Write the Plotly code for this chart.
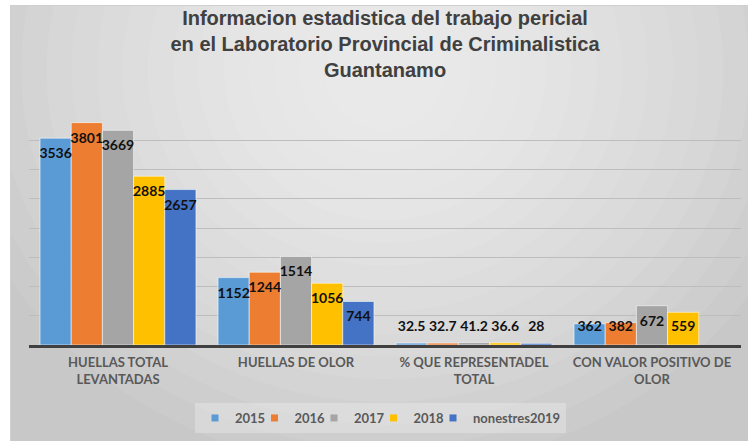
import plotly.graph_objects as go

categories = ["HUELLAS TOTAL<br>LEVANTADAS", "HUELLAS DE OLOR",
              "% QUE REPRESENTADEL<br>TOTAL", "CON VALOR POSITIVO DE<br>OLOR"]
series_names = ["2015", "2016", "2017", "2018", "nonestres2019"]
v2015 = [3536, 1152, 32.5, 362]
v2016 = [3801, 1244, 32.7, 382]
v2017 = [3669, 1514, 41.2, 672]
v2018 = [2885, 1056, 36.6, 559]
v2019 = [2657, 744, 28, None]
series_values = [v2015, v2016, v2017, v2018, v2019]
colors = ["#5B9BD5", "#ED7D31", "#A5A5A5", "#FFC000", "#4472C4"]

W, H = 748, 441
ML, MR, MT, MB = 29, 7, 111, 96
PW = W - ML - MR
PH = H - MT - MB
YMAX = 4000
K = YMAX / PH  # data units per pixel


def px(x):
    return (x - ML) / PW


def py(y):
    return (H - MB - y) / PH


lab_font = dict(family="Lato", size=14, color="#111111", weight="bold")

fig = go.Figure()
for i, (name, vals, col) in enumerate(zip(series_names, series_values, colors)):
    fig.add_trace(go.Bar(
        name=name, x=categories, y=vals, showlegend=False, offsetgroup=f"s{i}",
        marker=dict(color=col, line=dict(color="rgba(255,255,255,0.55)", width=1)),
        hoverinfo="x+y+name",
    ))

# data labels placed "inside end" like the original chart
for i, (name, vals) in enumerate(zip(series_names, series_values)):
    ys = [None if v is None else max(v - 16.5 * K, 18 * K) for v in vals]
    texts = ["" if v is None else f"{v:g}" for v in vals]
    fig.add_trace(go.Scatter(
        x=categories, y=ys, mode="text", text=texts, textposition="middle center",
        textfont=lab_font, offsetgroup=f"s{i}", showlegend=False,
        hoverinfo="skip", cliponaxis=False,
    ))

# legend entries (small square keys like the original)
for i, (name, col) in enumerate(zip(series_names, colors)):
    fig.add_trace(go.Scatter(
        name=name, x=[categories[0]], y=[None], mode="markers",
        marker=dict(symbol="square", size=7, color=col), offsetgroup=f"s{i}",
        showlegend=True, hoverinfo="skip",
        legendwidth=(14.5 if i < len(series_names) - 1 else None),
    ))

shapes = []
shapes.append(dict(type="rect", xref="paper", yref="paper", layer="below",
                   x0=px(10), x1=px(760), y0=py(460), y1=py(5),
                   fillcolor="#c8c8c8", line=dict(width=0)))
n = 16
for i in range(n):
    t = i / (n - 1)
    rx = 440 - t * 380
    ry = 400 - t * 340
    cx, cy = 385, 70
    shapes.append(dict(type="circle", xref="paper", yref="paper", layer="below",
                       x0=px(cx - rx), x1=px(cx + rx), y0=py(cy + ry), y1=py(cy - ry),
                       fillcolor="rgba(255,255,255,0.07)", line=dict(width=0)))
shapes.append(dict(type="rect", xref="paper", yref="paper", layer="below",
                   x0=px(-50), x1=px(10), y0=py(500), y1=py(-50),
                   fillcolor="white", line=dict(width=0)))
shapes.append(dict(type="rect", xref="paper", yref="paper", layer="below",
                   x0=px(-50), x1=px(800), y0=py(5), y1=py(-50),
                   fillcolor="white", line=dict(width=0)))
shapes.append(dict(type="rect", xref="paper", yref="paper", layer="below",
                   x0=px(10.5), x1=px(760), y0=py(460), y1=py(5.5),
                   fillcolor="rgba(0,0,0,0)", line=dict(color="#cfcfcf", width=1)))

fig.update_layout(
    width=W, height=H,
    margin=dict(l=ML, r=MR, t=MT, b=MB, pad=0),
    paper_bgcolor="white", plot_bgcolor="rgba(0,0,0,0)",
    barmode="group", bargap=0.124, bargroupgap=0,
    scattermode="group", scattergap=0.124,
    title=dict(text="Informacion estadistica del trabajo pericial<br>en el Laboratorio Provincial de Criminalistica<br>Guantanamo",
               x=0.5, xref="paper", xanchor="center",
               y=1 - 25 / H, yref="container", yanchor="top",
               font=dict(family="Liberation Sans", size=20, color="#404040", weight="bold")),
    xaxis=dict(showline=True, linecolor="#404040", linewidth=2.5, ticks="",
               tickfont=dict(family="Lato", size=13, color="#595959", weight="bold"),
               ticklabelstandoff=4, showgrid=False, zeroline=False),
    yaxis=dict(range=[0, YMAX], dtick=500, showticklabels=False, ticks="",
               showgrid=True, gridcolor="#bdbdbd", gridwidth=1, zeroline=False,
               showline=False),
    legend=dict(orientation="h", x=px(195), xanchor="left", y=py(418), yanchor="middle",
                bgcolor="rgba(255,255,255,0.25)", borderwidth=0,
                font=dict(family="Lato", size=13, color="#595959", weight="bold"),
                itemwidth=30, traceorder="normal"),
    shapes=shapes,
    showlegend=True,
)

fig.write_html("out.html")
